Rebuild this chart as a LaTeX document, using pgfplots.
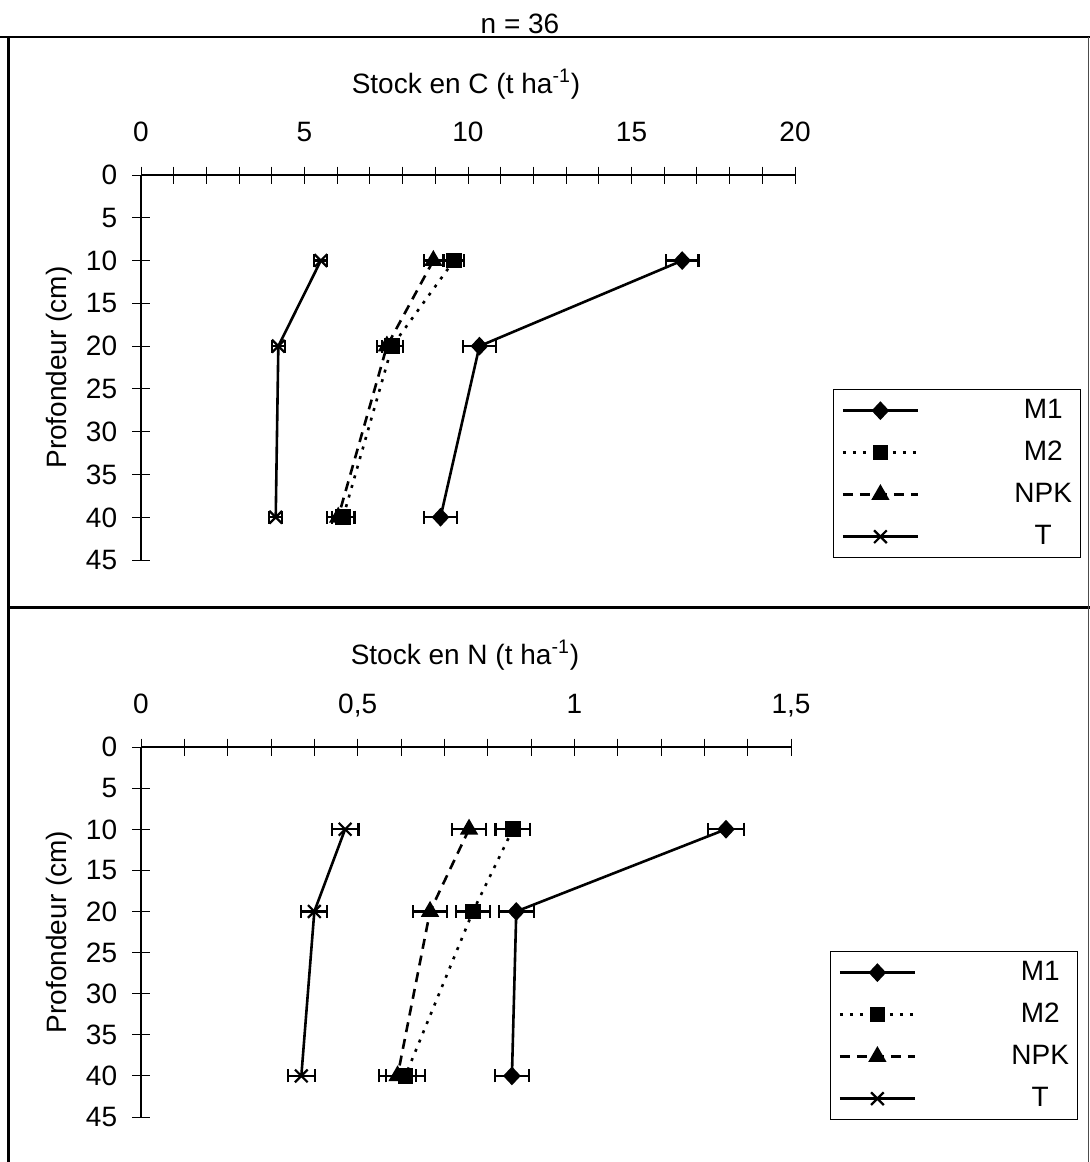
\documentclass[border=0pt]{standalone}
\usepackage{fontspec}
\setmainfont{Liberation Sans}
\usepackage{pgfplots}
\pgfplotsset{compat=1.18}
\usepackage{pgfplotstable}

% ---- Stock en C (t/ha) ----
\pgfplotstableread{
x y e
16.55 10 0.50
10.35 20 0.51
9.16 40 0.51
}\CMone
\pgfplotstableread{
x y e
9.57 10 0.30
7.68 20 0.32
6.18 40 0.35
}\CMtwo
\pgfplotstableread{
x y e
8.94 10 0.29
7.52 20 0.30
6.03 40 0.35
}\CNPK
\pgfplotstableread{
x y e
5.50 10 0.20
4.20 20 0.20
4.12 40 0.20
}\CT
% ---- Stock en N (t/ha) ----
\pgfplotstableread{
x y e
1.350 10 0.042
0.866 20 0.040
0.856 40 0.040
}\NMone
\pgfplotstableread{
x y e
0.858 10 0.040
0.766 20 0.040
0.610 40 0.045
}\NMtwo
\pgfplotstableread{
x y e
0.757 10 0.040
0.667 20 0.040
0.592 40 0.042
}\NNPK
\pgfplotstableread{
x y e
0.471 10 0.031
0.400 20 0.030
0.370 40 0.031
}\NT

\pgfplotsset{
  stockaxis/.style={
    scale only axis,
    axis x line=top, axis y line=left,
    axis line style={-, line width=0.8pt},
    y dir=reverse, ymin=0, ymax=45, ytick={0,5,...,45},
    tick align=center, major tick length=8.5pt, minor tick length=8.5pt,
    tick style={black, line width=0.5pt},
    ticklabel style={font=\fontsize{14}{16.8}\selectfont, inner sep=0pt, text depth=0pt},
    xticklabel shift=12.25pt,
    yticklabel shift=7.5pt,
    /pgf/number format/assume math mode=true,
    label style={font=\fontsize{14}{16.8}\selectfont},
    ylabel={Profondeur (cm)},
    clip=false,
    legend cell align=center,
    legend image code/.code={\draw[mark repeat=2, mark phase=2, ##1] plot coordinates {(0pt,0pt) (18.75pt,0pt) (37.5pt,0pt)};},
    legend style={draw=black, line width=0.6pt, inner xsep=4pt, inner ysep=0pt,
      column sep=47.5pt, row sep=0pt,
      font=\fontsize{14}{16.8}\selectfont,
      nodes={inner sep=0pt, minimum height=21pt, text width=29pt, align=center}},
  },
  errx/.style={error bars/.cd, x dir=both, x explicit,
    error bar style={solid, line width=1.1pt},
    error mark options={solid, rotate=90, mark size=3.25pt, line width=1.1pt}},
  sM1/.style={black, solid, line width=1.3pt, mark=diamond*, mark size=3.75pt, mark options={solid, xscale=1.25}, errx},
  sM2/.style={black, line width=1.3pt, dash pattern=on 1.5pt off 3.5pt, mark=square*, mark size=3.25pt, mark options={solid}, errx},
  sNPK/.style={black, line width=1.3pt, dash pattern=on 5pt off 3.5pt, mark=triangle*, mark size=4pt, mark options={solid}, errx},
  sT/.style={black, solid, line width=1.3pt, mark=x, mark size=4.5pt, mark options={solid, line width=1.1pt}, errx},
}

\begin{document}
\begin{tikzpicture}
\path[use as bounding box] (0pt,0pt) rectangle (545pt,-581pt);
% frame
\draw[line width=1.3pt] (0pt,-18.5pt) -- (545pt,-18.5pt);
\draw[line width=1.3pt] (4.25pt,-18.5pt) -- (4.25pt,-581pt);
\draw[line width=1.3pt] (4.25pt,-303.8pt) -- (545pt,-303.8pt);
\draw[line width=0.8pt, black!70] (544.2pt,-18.5pt) -- (544.2pt,-581pt);
\node[font=\fontsize{14}{16.8}\selectfont] at (260pt,-12pt) {n = 36};

\begin{axis}[stockaxis,
  at={(70.5pt,-280pt)}, anchor=south west,
  width=327pt, height=192.5pt,
  xmin=0, xmax=20, xtick={0,5,...,20}, minor x tick num=4,
  xlabel={Stock en C (t ha\textsuperscript{-1})},
  xlabel style={at={(axis description cs:0.497,1.236)}, anchor=center},
  ylabel style={at={(axis description cs:-0.125,0.5)}, anchor=center},
  legend style={at={(axis description cs:1.0581,0.444)}, anchor=north west},
]
\addplot[sM1] table[x=x, y=y, x error=e] {\CMone};
\addlegendentry{M1}
\addplot[sM2] table[x=x, y=y, x error=e] {\CMtwo};
\addlegendentry{M2}
\addplot[sNPK] table[x=x, y=y, x error=e] {\CNPK};
\addlegendentry{NPK}
\addplot[sT] table[x=x, y=y, x error=e] {\CT};
\addlegendentry{T}
\end{axis}

\begin{axis}[stockaxis,
  at={(70.5pt,-558.5pt)}, anchor=south west,
  width=325pt, height=185pt,
  xmin=0, xmax=1.5, xtick={0,0.5,1,1.5}, minor x tick num=4,
  /pgf/number format/use comma,
  xlabel={Stock en N (t ha\textsuperscript{-1})},
  xlabel style={at={(axis description cs:0.4985,1.2486)}, anchor=center},
  ylabel style={at={(axis description cs:-0.126,0.5)}, anchor=center},
  legend style={at={(axis description cs:1.06,0.4486)}, anchor=north west},
]
\addplot[sM1] table[x=x, y=y, x error=e] {\NMone};
\addlegendentry{M1}
\addplot[sM2] table[x=x, y=y, x error=e] {\NMtwo};
\addlegendentry{M2}
\addplot[sNPK] table[x=x, y=y, x error=e] {\NNPK};
\addlegendentry{NPK}
\addplot[sT] table[x=x, y=y, x error=e] {\NT};
\addlegendentry{T}
\end{axis}
\end{tikzpicture}
\end{document}
